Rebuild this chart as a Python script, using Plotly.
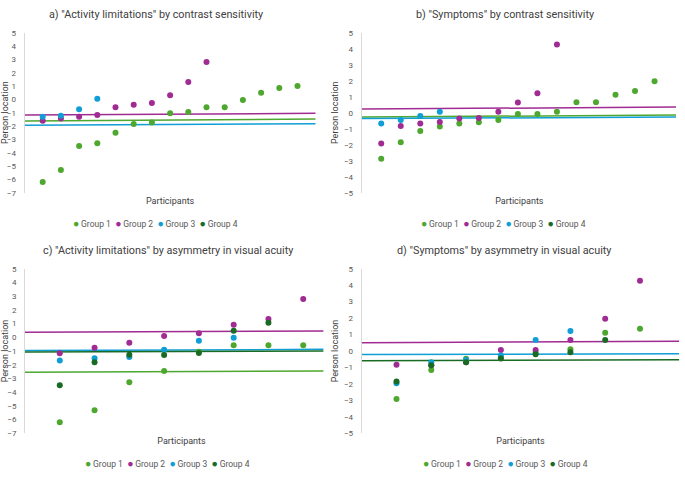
import plotly.graph_objects as go

# ---------------- data ----------------
groups = ["Group 1", "Group 2", "Group 3", "Group 4"]
colors = ["#4EA72E", "#A02B93", "#0F9ED5", "#196B24"]

titles = [
    'a) "Activity limitations" by contrast sensitivity',
    'b) "Symptoms" by contrast sensitivity',
    'c) "Activity limitations" by asymmetry in visual acuity',
    'd) "Symptoms" by asymmetry in visual acuity',
]

# panel a
a_g1 = [-6.2, -5.3, -3.5, -3.3, -2.5, -1.85, -1.73, -1.05, -0.95, -0.6, -0.6, -0.05, 0.5, 0.85, 1.0]
a_g2 = [-1.6, -1.43, -1.3, -1.18, -0.6, -0.4, -0.28, 0.3, 1.3, 2.8]
a_g3 = [-1.3, -1.23, -0.75, 0.05]
a_g4 = []
a_trend_x = [0, 16]
a_trend_g1 = [-1.63, -1.48]
a_trend_g2 = [-1.18, -1.05]
a_trend_g3 = [-1.95, -1.83]

# panel b
b_g1 = [-2.88, -1.85, -1.14, -0.87, -0.68, -0.6, -0.46, -0.08, -0.08, 0.06, 0.66, 0.66, 1.12, 1.35, 1.97]
b_g2 = [-1.93, -0.83, -0.68, -0.58, -0.37, -0.33, 0.06, 0.64, 1.22, 4.27]
b_g3 = [-0.68, -0.46, -0.21, 0.06]
b_g4 = []
b_trend_x = [0, 16.1]
b_trend_g1 = [-0.27, -0.15]
b_trend_g2 = [0.23, 0.35]
b_trend_g3 = [-0.37, -0.27]

# panel c
c_g1 = [-6.19, -5.32, -3.28, -2.45, -1.05, -0.58, -0.58, -0.58]
c_g2 = [-1.17, -0.76, -0.39, 0.09, 0.29, 0.92, 1.33, 2.79]
c_g3 = [-1.7, -1.53, -1.43, -0.9, -0.25, -0.03]
c_g4 = [-3.5, -1.82, -1.27, -1.29, -1.14, 0.48, 1.06]
c_trend_x = [0, 8.58]
c_trend_g1 = [-2.55, -2.45]
c_trend_g2 = [0.36, 0.46]
c_trend_g3 = [-0.97, -0.88]
c_trend_g4 = [-1.07, -1.0]

# panel d
d_g1 = [-2.91, -1.15, -0.47, -0.42, -0.1, 0.1, 1.11, 1.35]
d_g2 = [-0.83, -0.87, -0.69, 0.06, 0.06, 0.67, 1.96, 4.27]
d_g3 = [-1.96, -0.69, -0.55, -0.28, 0.67, 1.21]
d_g4 = [-1.86, -0.87, -0.69, -0.45, -0.2, -0.08, 0.67]
d_trend_x = [0, 9.13]
d_trend_g2 = [0.5, 0.59]
d_trend_g3 = [-0.22, -0.16]
d_trend_g4 = [-0.59, -0.53]

panels = [
    dict(points=[a_g1, a_g2, a_g3, a_g4], tx=a_trend_x,
         trends=[(0, a_trend_g1), (1, a_trend_g2), (2, a_trend_g3)]),
    dict(points=[b_g1, b_g2, b_g3, b_g4], tx=b_trend_x,
         trends=[(0, b_trend_g1), (1, b_trend_g2), (2, b_trend_g3)]),
    dict(points=[c_g1, c_g2, c_g3, c_g4], tx=c_trend_x,
         trends=[(0, c_trend_g1), (1, c_trend_g2), (2, c_trend_g3), (3, c_trend_g4)]),
    dict(points=[d_g1, d_g2, d_g3, d_g4], tx=d_trend_x,
         trends=[(1, d_trend_g2), (2, d_trend_g3), (3, d_trend_g4)]),
]

# ---------------- layout geometry ----------------
W, H = 685, 477
FONT = "Roboto"
TXT = "#404040"
TICK = "#595959"

x_domains = [[24.5 / W, 315.7 / W], [361.7 / W, 677 / W],
             [25 / W, 338 / W], [361.7 / W, 679.3 / W]]
x_ranges = [[0, 16], [0, 16.15], [0, 9], [0, 9.13]]
y_domains = [[284.3 / H, 444.3 / H], [284.3 / H, 444.3 / H],
             [43.7 / H, 208.3 / H], [43.7 / H, 208.3 / H]]
y_ranges = [[-7, 5], [-5, 5], [-7, 5], [-5, 5]]
title_pos = [(155.8, 15), (504.5, 15), (167.5, 250.7), (504, 251)]
legend_pos = [(155, 223), (504, 223), (167, 463), (505, 463)]

fig = go.Figure()

for p, panel in enumerate(panels):
    suffix = "" if p == 0 else str(p + 1)
    xa, ya = "x" + suffix, "y" + suffix
    for gi, yv in panel["trends"]:
        fig.add_trace(go.Scatter(
            x=panel["tx"], y=yv, mode="lines", xaxis=xa, yaxis=ya,
            name=groups[gi] + " trend",
            line=dict(color=colors[gi], width=1.5), showlegend=False,
            hoverinfo="skip"))
    for gi, vals in enumerate(panel["points"]):
        xs = list(range(1, len(vals) + 1)) if vals else [None]
        ys = vals if vals else [None]
        fig.add_trace(go.Scatter(
            x=xs, y=ys, mode="markers", name=groups[gi], xaxis=xa, yaxis=ya,
            marker=dict(color=colors[gi], size=6, line=dict(width=0)),
            showlegend=False))

layout = dict(
    width=W, height=H,
    margin=dict(l=0, r=0, t=0, b=0, autoexpand=False),
    paper_bgcolor="white", plot_bgcolor="white",
    font=dict(family=FONT, color=TXT),
    showlegend=False,
    annotations=[],
)

# compact legend text: coloured bullet + group name (like the source chart)
legend_text = "\u2002".join(
    '<span style="color:%s;font-size:10.5px">\u25CF</span>%s' % (c, "\u2009" + g)
    for g, c in zip(groups, colors))

for p in range(4):
    suffix = "" if p == 0 else str(p + 1)
    layout["xaxis" + suffix] = dict(
        domain=x_domains[p], range=x_ranges[p], anchor="y" + suffix,
        showgrid=False, zeroline=False, showline=False, showticklabels=False,
        automargin=False, ticks="",
        title=dict(text="Participants", standoff=4,
                   font=dict(size=9, color=TXT, family=FONT)))
    layout["yaxis" + suffix] = dict(
        domain=y_domains[p], range=y_ranges[p], anchor="x" + suffix,
        dtick=1, tick0=0, showgrid=False, zeroline=False, automargin=False,
        showline=True, linecolor="#D9D9D9", linewidth=1, ticks="",
        ticklabelstandoff=6,
        tickfont=dict(size=8, color=TICK, family=FONT),
        title=dict(text="Person location", standoff=3,
                   font=dict(size=9, color=TXT, family=FONT)))
    tx, ty = title_pos[p]
    layout["annotations"].append(dict(
        text=titles[p], x=tx / W, y=1 - ty / H, xref="paper", yref="paper",
        xanchor="center", yanchor="middle", showarrow=False,
        font=dict(size=10.8, color=TXT, family=FONT)))
    lx, ly = legend_pos[p]
    layout["annotations"].append(dict(
        text=legend_text, x=lx / W, y=1 - ly / H, xref="paper", yref="paper",
        xanchor="center", yanchor="middle", showarrow=False,
        font=dict(size=8.5, color=TICK, family=FONT)))

fig.update_layout(**layout)
fig.write_html("out.html", config={"displayModeBar": False},
               post_script="document.body.style.margin='0px';document.body.style.overflow='hidden';")
